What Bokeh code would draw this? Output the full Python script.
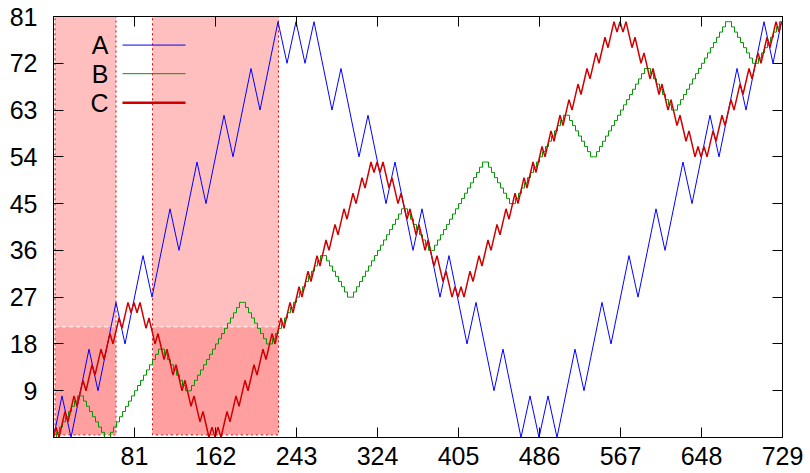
from bokeh.plotting import figure
from bokeh.models import FixedTicker, LinearAxis, Range1d, CustomJSTickFormatter
from bokeh.embed import file_html
from bokeh.resources import INLINE
from bokeh.core.properties import value

# ---------------- data ----------------
x_ticks = [81, 162, 243, 324, 405, 486, 567, 648, 729]
y_ticks = [9, 18, 27, 36, 45, 54, 63, 72, 81]
series_names = ["A", "B", "C"]

# A: turning points of the zig-zag
A_x = [0,
       8.5, 17.5, 35.5, 44.5, 62.5, 71.5, 89.5, 98.5, 116.5, 125.5, 143.5, 152.5, 170.5, 179.5, 197.5, 206.5, 224.5, 233.5, 242.5,
       251.5, 260.5, 278.5, 287.5, 305.5, 314.5, 332.5, 341.5, 359.5, 368.5, 386.5, 395.5, 413.5, 422.5, 440.5, 449.5, 467.5, 476.5, 485.5,
       494.5, 503.5, 521.5, 530.5, 548.5, 557.5, 575.5, 584.5, 602.5, 611.5, 629.5, 638.5, 656.5, 665.5, 683.5, 692.5, 710.5, 719.5, 728]
A_y = [0,
       8, 0, 17, 9, 26, 18, 35, 27, 44, 36, 53, 45, 62, 54, 71, 63, 80, 72, 80,
       72, 80, 63, 71, 54, 62, 45, 53, 36, 44, 27, 35, 18, 26, 9, 17, 0, 8, 0,
       8, 0, 17, 9, 26, 18, 35, 27, 44, 36, 53, 45, 62, 54, 71, 63, 80, 72, 80]

# B: staircase, one value for every 3 units of x
B_steps = [
    0, 1, 2, 3, 4, 5, 6, 7, 8, 8, 7, 6, 5, 4, 3, 2, 1, 0, 0, 1, 2, 3, 4, 5, 6, 7, 8,
    9, 10, 11, 12, 13, 14, 15, 16, 17, 17, 16, 15, 14, 13, 12, 11, 10, 9, 9, 10, 11, 12, 13, 14, 15, 16, 17,
    18, 19, 20, 21, 22, 23, 24, 25, 26, 26, 25, 24, 23, 22, 21, 20, 19, 18, 18, 19, 20, 21, 22, 23, 24, 25, 26,
    27, 28, 29, 30, 31, 32, 33, 34, 35, 35, 34, 33, 32, 31, 30, 29, 28, 27, 27, 28, 29, 30, 31, 32, 33, 34, 35,
    36, 37, 38, 39, 40, 41, 42, 43, 44, 44, 43, 42, 41, 40, 39, 38, 37, 36, 36, 37, 38, 39, 40, 41, 42, 43, 44,
    45, 46, 47, 48, 49, 50, 51, 52, 53, 53, 52, 51, 50, 49, 48, 47, 46, 45, 45, 46, 47, 48, 49, 50, 51, 52, 53,
    54, 55, 56, 57, 58, 59, 60, 61, 62, 62, 61, 60, 59, 58, 57, 56, 55, 54, 54, 55, 56, 57, 58, 59, 60, 61, 62,
    63, 64, 65, 66, 67, 68, 69, 70, 71, 71, 70, 69, 68, 67, 66, 65, 64, 63, 63, 64, 65, 66, 67, 68, 69, 70, 71,
    72, 73, 74, 75, 76, 77, 78, 79, 80, 80, 79, 78, 77, 76, 75, 74, 73, 72, 72, 73, 74, 75, 76, 77, 78, 79, 80]
B_x = list(range(0, 729, 3)) + [728]
B_y = B_steps + [B_steps[-1]]

# C: turning points of the wiggly curve
C_x = [0,
       2.5, 5.5, 11.5, 14.5, 20.5, 23.5, 29.5, 32.5, 38.5, 41.5, 47.5, 50.5, 56.5, 59.5, 65.5, 68.5, 74.5, 77.5, 80.5,
       83.5, 86.5, 92.5, 95.5, 101.5, 104.5, 110.5, 113.5, 119.5, 122.5, 128.5, 131.5, 137.5, 140.5, 146.5, 149.5, 155.5, 158.5, 161.5,
       164.5, 167.5, 173.5, 176.5, 182.5, 185.5, 191.5, 194.5, 200.5, 203.5, 209.5, 212.5, 218.5, 221.5, 227.5, 230.5, 236.5, 239.5,
       245.5, 248.5, 254.5, 257.5, 263.5, 266.5, 272.5, 275.5, 281.5, 284.5, 290.5, 293.5, 299.5, 302.5, 308.5, 311.5, 317.5, 320.5, 323.5,
       326.5, 329.5, 335.5, 338.5, 344.5, 347.5, 353.5, 356.5, 362.5, 365.5, 371.5, 374.5, 380.5, 383.5, 389.5, 392.5, 398.5, 401.5, 404.5,
       407.5, 410.5, 416.5, 419.5, 425.5, 428.5, 434.5, 437.5, 443.5, 446.5, 452.5, 455.5, 461.5, 464.5, 470.5, 473.5, 479.5, 482.5,
       488.5, 491.5, 497.5, 500.5, 506.5, 509.5, 515.5, 518.5, 524.5, 527.5, 533.5, 536.5, 542.5, 545.5, 551.5, 554.5, 560.5, 563.5, 566.5,
       569.5, 572.5, 578.5, 581.5, 587.5, 590.5, 596.5, 599.5, 605.5, 608.5, 614.5, 617.5, 623.5, 626.5, 632.5, 635.5, 641.5, 644.5, 647.5,
       650.5, 653.5, 659.5, 662.5, 668.5, 671.5, 677.5, 680.5, 686.5, 689.5, 695.5, 698.5, 704.5, 707.5, 713.5, 716.5, 722.5, 725.5, 728]
C_y = [0,
       2, 0, 5, 3, 8, 6, 11, 9, 14, 12, 17, 15, 20, 18, 23, 21, 26, 24, 26,
       24, 26, 21, 23, 18, 20, 15, 17, 12, 14, 9, 11, 6, 8, 3, 5, 0, 2, 0,
       2, 0, 5, 3, 8, 6, 11, 9, 14, 12, 17, 15, 20, 18, 23, 21, 26, 24,
       29, 27, 32, 30, 35, 33, 38, 36, 41, 39, 44, 42, 47, 45, 50, 48, 53, 51, 53,
       51, 53, 48, 50, 45, 47, 42, 44, 39, 41, 36, 38, 33, 35, 30, 32, 27, 29, 27,
       29, 27, 32, 30, 35, 33, 38, 36, 41, 39, 44, 42, 47, 45, 50, 48, 53, 51,
       56, 54, 59, 57, 62, 60, 65, 63, 68, 66, 71, 69, 74, 72, 77, 75, 80, 78, 80,
       78, 80, 75, 77, 72, 74, 69, 71, 66, 68, 63, 65, 60, 62, 57, 59, 54, 56, 54,
       56, 54, 59, 57, 62, 60, 65, 63, 68, 66, 71, 69, 74, 72, 77, 75, 80, 78, 80]

# highlighted regions
tall_left = [1.5, 99]
tall_right = [62.5, 225]
tall_bottom = [0.5, 0.5]
tall_top = [81, 81]
low_top = [21.3, 21.3]

# ---------------- figure ----------------
FONT = "Liberation Sans"
p = figure(width=810, height=473, x_range=Range1d(0, 729), y_range=Range1d(0, 81),
           output_backend="svg", toolbar_location=None,
           min_border_left=53, min_border_right=28, min_border_top=16, min_border_bottom=36)
p.grid.visible = False
p.outline_line_color = "black"
p.outline_line_width = 1
p.background_fill_color = "white"
p.border_fill_color = "white"

def style_axis(ax, ticks, labels=True):
    ax.ticker = FixedTicker(ticks=ticks)
    ax.major_tick_in = 10
    ax.major_tick_out = 0
    ax.minor_tick_line_color = None
    ax.axis_line_color = "black"
    ax.major_tick_line_color = "black"
    ax.major_label_text_font = FONT
    ax.major_label_text_font_size = "25px"
    ax.major_label_text_color = "black"
    if not labels:
        ax.formatter = CustomJSTickFormatter(code="return ''")
        ax.major_label_text_font_size = "0px"
        ax.major_label_standoff = 0

style_axis(p.xaxis[0], x_ticks)
style_axis(p.yaxis[0], y_ticks)
p.xaxis[0].major_label_standoff = 9
p.yaxis[0].major_label_standoff = 16

top_ax = LinearAxis()
style_axis(top_ax, x_ticks, labels=False)
p.add_layout(top_ax, "above")
right_ax = LinearAxis()
style_axis(right_ax, y_ticks, labels=False)
p.add_layout(right_ax, "right")

# rectangles (behind curves)
p.quad(left=tall_left, right=tall_right, bottom=tall_bottom, top=tall_top,
       fill_color="#ffbfbf", line_color=None)
p.quad(left=tall_left, right=tall_right, bottom=tall_bottom, top=low_top,
       fill_color="#ff9f9f", line_color="white", line_dash="4 3", line_width=1)
p.quad(left=tall_left, right=tall_right, bottom=tall_bottom, top=tall_top,
       fill_color=None, line_color="#e00000", line_dash="2 3", line_width=1)

# curves
colors = ["#0000ff", "#009900", "#d00000"]
widths = [1, 1, 1.5]
p.line(A_x, A_y, line_color=colors[0], line_width=widths[0])
p.step(B_x, B_y, mode="after", line_color=colors[1], line_width=widths[1])
p.line(C_x, C_y, line_color=colors[2], line_width=widths[2])

# key (text, then sample line)
key_y = [75.5, 70.0, 64.4]
p.text(x=[55, 55, 55], y=key_y, text=series_names, text_align="right", text_baseline="middle",
       text_font=value(FONT), text_font_size="25px", text_color="black")
for i in range(3):
    p.segment(x0=[69], x1=[132], y0=[key_y[i]], y1=[key_y[i]],
              line_color=colors[i], line_width=widths[i] if i < 2 else 2.5)

open("out.html", "w").write(file_html(p, INLINE))
